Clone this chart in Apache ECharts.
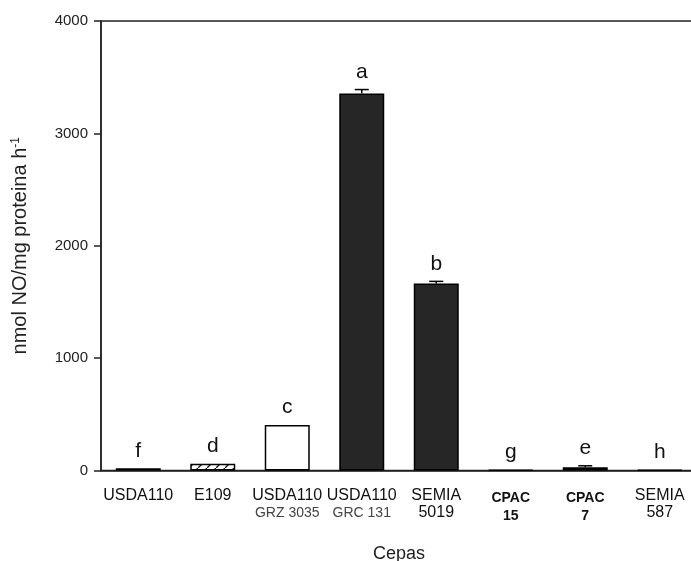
<!DOCTYPE html>
<html>
<head>
<meta charset="utf-8">
<script src="https://cdn.jsdelivr.net/npm/echarts@6/dist/echarts.min.js"></script>
<style>html,body{margin:0;padding:0;background:#fff;}#c{width:691px;height:561px;}</style>
</head>
<body>
<div id="c"></div>
<script>
var categories = ['USDA110', 'E109', 'USDA110\nGRZ 3035', 'USDA110\nGRC 131', 'SEMIA\n5019', 'CPAC\n15', 'CPAC\n7', 'SEMIA\n587'];
var values = [20, 60, 405, 3355, 1665, 6, 30, 6];
var errors = [0, 0, 0, 35, 18, 0, 12, 0];
var letters = ['f', 'd', 'c', 'a', 'b', 'g', 'e', 'h'];
var yTicks = [0, 1000, 2000, 3000, 4000];

// hatch pattern for E109
var pc = document.createElement('canvas');
pc.width = 9; pc.height = 9;
var ctx = pc.getContext('2d');
ctx.fillStyle = '#fff'; ctx.fillRect(0, 0, 9, 9);
ctx.strokeStyle = '#111'; ctx.lineWidth = 1.3;
ctx.beginPath(); ctx.moveTo(-1, 10); ctx.lineTo(10, -1); ctx.stroke();
var fills = ['#000', {image: pc, repeat: 'repeat'}, '#fff', '#262626', '#262626', '#000', '#000', '#000'];

var chart = echarts.init(document.getElementById('c'), null, {renderer: 'canvas'});
var font = 'Liberation Sans, Arial, sans-serif';
var option = {
  animation: false,
  grid: {left: 101, right: -6, top: 21, bottom: 90.5, containLabel: false, outerBoundsMode: 'none', show: true, borderColor: '#222', borderWidth: 1.5, backgroundColor: 'transparent'},
  xAxis: {
    type: 'category',
    data: categories,
    name: 'Cepas',
    nameLocation: 'middle',
    nameGap: 75,
    nameTextStyle: {fontFamily: font, fontSize: 18, color: '#222'},
    axisLine: {lineStyle: {color: '#222', width: 1.5}},
    axisTick: {alignWithLabel: true, length: 6, lineStyle: {color: '#222', width: 1.5}},
    axisLabel: {
      margin: 17,
      interval: 0,
      formatter: function (v, i) {
        var l = v.split('\n');
        var a, b;
        if (i === 2 || i === 3) { a = 'm'; b = 'g'; }
        else if (i === 5 || i === 6) { a = 'n'; b = 'n'; }
        else { a = 'm'; b = 'm'; }
        var s = '{' + a + '|' + l[0] + '}';
        if (l[1]) s += '\n{' + b + '|' + l[1] + '}';
        return s;
      },
      rich: {
        m: {fontFamily: font, fontSize: 16, color: '#111', lineHeight: 17},
        g: {fontFamily: font, fontSize: 14, color: '#444', lineHeight: 17},
        n: {fontFamily: font, fontWeight: 'bold', fontSize: 14, color: '#111', lineHeight: 18, padding: [3, 0, 0, 0]}
      }
    }
  },
  yAxis: {
    type: 'value',
    min: 0, max: 4000, interval: 1000,
    name: '{a|nmol NO/mg proteina h}{s|-1}',
    nameLocation: 'middle',
    nameGap: 71,
    nameTextStyle: {
      rich: {
        a: {fontFamily: font, fontSize: 20, color: '#222'},
        s: {fontFamily: font, fontSize: 12, color: '#222', verticalAlign: 'top', padding: [0, 0, 8, 0]}
      }
    },
    splitLine: {show: false},
    axisLine: {show: true, lineStyle: {color: '#222', width: 1.5}},
    axisTick: {show: true, length: 7, lineStyle: {color: '#222', width: 1.5}},
    axisLabel: {
      margin: 13,
      fontFamily: font, fontSize: 15, color: '#222',
      formatter: function (v) { return yTicks.indexOf(v) >= 0 ? String(v) : ''; }
    }
  },
  series: [
    {
      type: 'bar',
      barWidth: 45,
      data: values.map(function (v, i) {
        return {value: v, itemStyle: {color: fills[i], borderColor: '#000', borderWidth: 1.5}};
      }),
      z: 2
    },
    {
      type: 'custom',
      z: 3,
      data: values.map(function (v, i) { return [i, v, errors[i]]; }),
      renderItem: function (params, api) {
        var i = api.value(0), v = api.value(1), e = api.value(2);
        var p0 = api.coord([i, v]);
        var p1 = api.coord([i, v + e]);
        var children = [];
        if (e > 0) {
          children.push({type: 'line', shape: {x1: p0[0], y1: p0[1], x2: p1[0], y2: p1[1]}, style: {stroke: '#000', lineWidth: 1.5}});
          children.push({type: 'line', shape: {x1: p1[0] - 7, y1: p1[1], x2: p1[0] + 7, y2: p1[1]}, style: {stroke: '#000', lineWidth: 1.5}});
        }
        children.push({
          type: 'text',
          style: {
            text: letters[params.dataIndex],
            x: p1[0], y: p1[1] - 7,
            align: 'center', verticalAlign: 'bottom',
            fontFamily: font,
            fontSize: 21, fill: '#111'
          }
        });
        return {type: 'group', children: children};
      }
    }
  ]
};
chart.setOption(option);
</script>
</body>
</html>
